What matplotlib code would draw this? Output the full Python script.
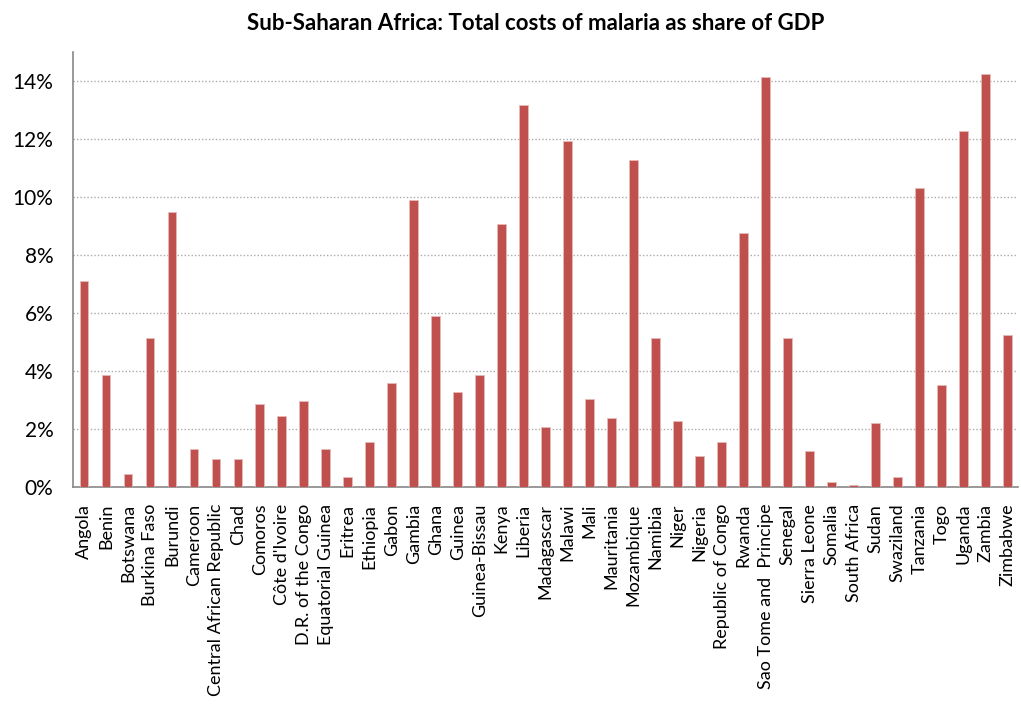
import matplotlib.pyplot as plt
from matplotlib.ticker import FuncFormatter

countries = ['Angola', 'Benin', 'Botswana', 'Burkina Faso', 'Burundi', 'Cameroon',
             'Central African Republic', 'Chad', 'Comoros', "Côte d'Ivoire",
             'D.R. of the Congo', 'Equatorial Guinea', 'Eritrea', 'Ethiopia', 'Gabon',
             'Gambia', 'Ghana', 'Guinea', 'Guinea-Bissau', 'Kenya', 'Liberia',
             'Madagascar', 'Malawi', 'Mali', 'Mauritania', 'Mozambique', 'Namibia',
             'Niger', 'Nigeria', 'Republic of Congo', 'Rwanda', 'Sao Tome and  Principe',
             'Senegal', 'Sierra Leone', 'Somalia', 'South Africa', 'Sudan', 'Swaziland',
             'Tanzania', 'Togo', 'Uganda', 'Zambia', 'Zimbabwe']

# total cost of malaria, % of GDP
cost_pct = [7.10, 3.88, 0.47, 5.13, 9.48, 1.32,
            0.96, 0.96, 2.87, 2.44,
            2.98, 1.32, 0.36, 1.56, 3.58,
            9.90, 5.91, 3.28, 3.88, 9.06, 13.17,
            2.09, 11.93, 3.05, 2.39, 11.27, 5.13,
            2.27, 1.08, 1.56, 8.76, 14.13,
            5.13, 1.26, 0.18, 0.07, 2.22, 0.36,
            10.31, 3.53, 12.29, 14.25, 5.25]

plt.rcParams['font.family'] = ['Lato', 'DejaVu Sans']

fig = plt.figure(figsize=(10.21, 7.26), dpi=100)
ax = fig.add_axes([0.0715, 0.329, 0.926, 0.599])

x = list(range(len(countries)))
ax.bar(x, cost_pct, width=0.4, color='#C0504D', edgecolor='#E6B9B8', linewidth=0.6, zorder=3)

ax.set_xlim(-0.5, len(countries) - 0.5)
ax.set_ylim(0, 15)
ax.set_yticks([0, 2, 4, 6, 8, 10, 12, 14])
ax.yaxis.set_major_formatter(FuncFormatter(lambda v, p: '{:.0f}%'.format(v)))
ax.grid(axis='y', linestyle=(0, (1, 1.5)), color='#AAAAAA', linewidth=1, zorder=0)

ax.set_xticks(x)
ax.set_xticklabels(countries, rotation=90, fontsize=13)
ax.tick_params(axis='y', labelsize=15, length=0, pad=14)
ax.tick_params(axis='x', length=0, pad=12)

for side in ['top', 'right']:
    ax.spines[side].set_visible(False)
for side in ['left', 'bottom']:
    ax.spines[side].set_color('#888888')
    ax.spines[side].set_linewidth(1.2)

fig.text(0.525, 0.968, 'Sub-Saharan Africa: Total costs of malaria as share of GDP',
         ha='center', va='center', fontsize=16, fontweight='bold')

plt.savefig('out.png', dpi=100)
